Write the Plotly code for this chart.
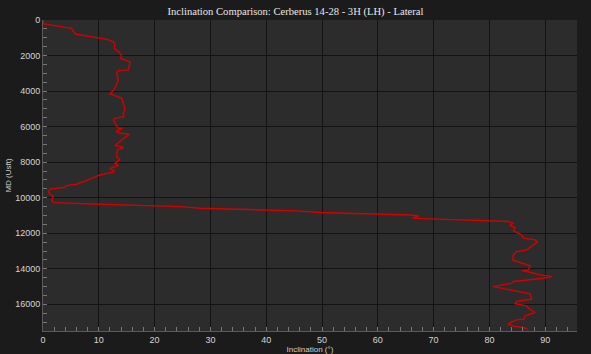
import plotly.graph_objects as go

inclination = [0, 0.2, 5.1, 5.7, 6.0, 9.6, 11.4, 12.6, 12.9, 12.8, 13.2, 13.6, 14.1, 13.9, 14.4, 15.3, 15.6,
               15.3, 13.5, 13.2, 13.5, 12.9, 12.0, 12.9, 14.1, 14.5, 14.7, 14.4, 14.5, 12.9, 12.6, 13.1,
               13.5, 14.3, 13.1, 13.9, 15.5, 14.5, 13.5, 12.9, 14.1, 14.4, 13.3, 13.2, 13.8, 12.9, 13.5,
               12.0, 12.9, 10.2, 8.1, 6.3, 6.0, 4.2, 3.9, 1.3, 0.95, 1.25, 1.85, 1.55, 1.85,
               10.2, 19.8, 24.6, 28.1, 33.5, 45.5, 49.6, 60.4, 65.8, 67.3, 66.2, 69.4, 81.3, 83.4,
               84.2, 83.7, 84.6, 84.3, 85.8, 86.1, 88.2, 88.6, 87.9, 86.7, 84.9, 84.3, 84.2, 86.1,
               87.3, 87.0, 85.8, 86.7, 89.1, 91.2, 89.7, 84.3, 84.0, 80.7, 83.1, 85.5, 87.3, 87.6,
               84.9, 84.6, 86.7, 87.0, 87.9, 88.2, 86.4, 86.2, 84.9, 83.7, 83.4, 84.6, 86.1, 87.0]
md = [0, 225, 470, 750, 800, 990, 1090, 1220, 1400, 1590, 1725, 1780, 2025, 2155, 2210, 2305, 2360,
      2810, 2850, 2960, 3375, 3840, 4160, 4255, 4405, 4780, 5060, 5250, 5440, 5530, 5625, 5905,
      6090, 6090, 6280, 6375, 6430, 6655, 6935, 7070, 7125, 7180, 7310, 7690, 7875, 8060, 8195,
      8345, 8530, 8720, 9000, 9185, 9240, 9320, 9410, 9520, 9655, 9785, 9935, 10125, 10275,
      10370, 10460, 10500, 10590, 10630, 10740, 10835, 10910, 10970, 11030, 11150, 11190, 11290, 11340,
      11435, 11570, 11680, 11870, 12090, 12280, 12375, 12485, 12655, 12935, 13030, 13220, 13500, 13685,
      13835, 14060, 14100, 14155, 14340, 14435, 14530, 14715, 14810, 15000, 15145, 15280, 15410, 15710,
      15840, 15970, 16085, 16215, 16365, 16460, 16650, 16835, 16875, 17025, 17115, 17250, 17305, 17435]

title_text = "Inclination Comparison: Cerberus 14-28 - 3H (LH) - Lateral"
x_title = "Inclination (°)"
y_title = "MD (Usft)"

fig = go.Figure()
fig.add_trace(go.Scatter(x=inclination, y=md, mode="lines",
                         line=dict(color="#d40000", width=1.4), showlegend=False))

tickfont = dict(family="Arial, Liberation Sans, sans-serif", size=9, color="#d6d6d6")
fig.update_layout(
    width=591, height=354,
    paper_bgcolor="#1b1b1b", plot_bgcolor="#2c2c2c",
    margin=dict(l=43, r=14, t=20, b=23),
    title=dict(text=title_text, x=0.5, xanchor="center", y=0.969, yanchor="middle",
               font=dict(family="Liberation Serif, Times New Roman, serif", size=10.6, color="#e8e8e8")),
)
fig.update_xaxes(
    range=[0, 95.7], dtick=10, tick0=0, automargin=False,
    showgrid=True, gridcolor="#131313", gridwidth=1, zeroline=False,
    showline=True, linecolor="#5a5a5a", linewidth=1, mirror=False,
    ticks="inside", ticklen=4, tickcolor="#777777",
    minor=dict(dtick=2, ticks="inside", ticklen=4, tickcolor="#777777", showgrid=False),
    tickfont=tickfont,
    title=dict(text=x_title, standoff=0, font=dict(family="Arial, Liberation Sans, sans-serif", size=8, color="#cfcfcf")),
)
fig.update_yaxes(
    range=[17500, 0], dtick=2000, tick0=0, tickformat="d", automargin=False,
    showgrid=True, gridcolor="#131313", gridwidth=1, zeroline=False,
    showline=True, linecolor="#5a5a5a", linewidth=1,
    ticks="inside", ticklen=4, tickcolor="#777777",
    minor=dict(dtick=500, ticks="inside", ticklen=4, tickcolor="#777777", showgrid=False),
    tickfont=tickfont,
    title=dict(text=y_title, standoff=2, font=dict(family="Arial, Liberation Sans, sans-serif", size=8, color="#cfcfcf")),
)

fig.write_html("out.html")
